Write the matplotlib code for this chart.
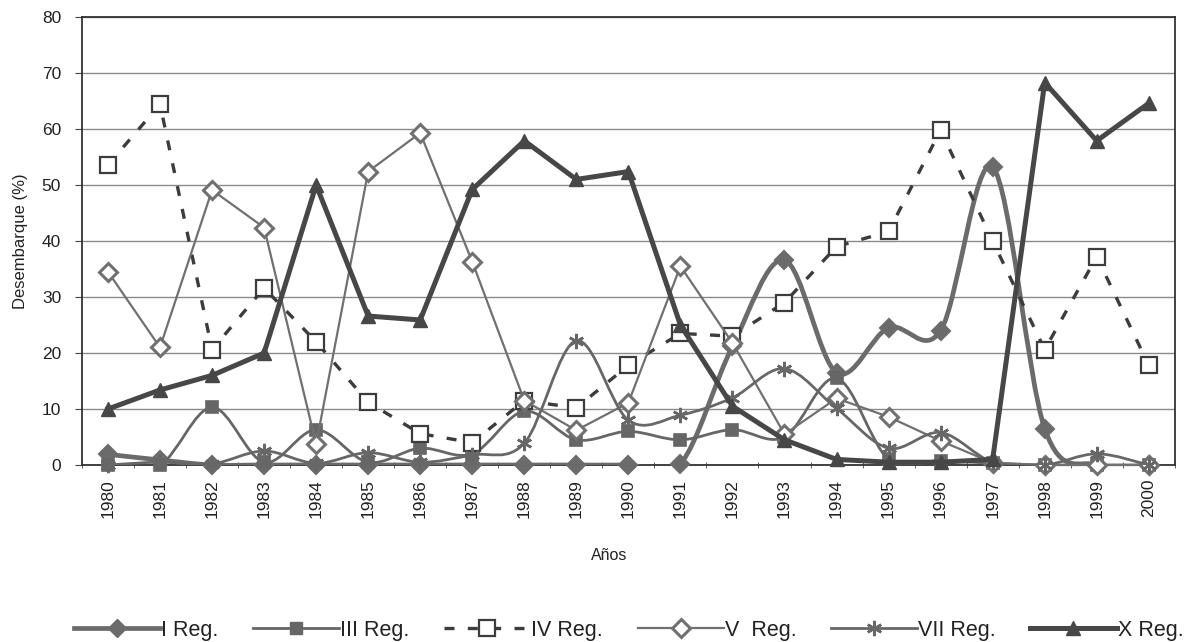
import numpy as np
import matplotlib
matplotlib.use("Agg")
import matplotlib.pyplot as plt
from matplotlib.path import Path
from matplotlib.patches import PathPatch
from matplotlib.lines import Line2D

plt.rcParams['font.family'] = ['Liberation Sans', 'DejaVu Sans']

years = [str(y) for y in range(1980, 2001)]

reg_I = [1.9, 0.9, 0, 0, 0, 0, 0, 0, 0, 0, 0, 0.2, 21.2, 36.6, 16.5, 24.5, 24.0, 53.2, 6.5, 0, 0]
reg_III = [0, 0, 10.3, 0.5, 6.3, 0.5, 3.0, 2.0, 9.6, 4.5, 6.0, 4.5, 6.3, 5.0, 15.5, 1.0, 0.8, 0.3, 0, 0, 0]
reg_IV = [53.6, 64.4, 20.6, 31.6, 22.0, 11.2, 5.6, 4.0, 11.5, 10.2, 17.8, 23.5, 23.0, 29.0, 39.0, 41.7, 59.8, 40.0, 20.6, 37.2, 17.8]
reg_V = [34.5, 21.0, 49.1, 42.4, 3.7, 52.4, 59.3, 36.3, 11.5, 6.2, 11.1, 35.5, 21.8, 5.5, 11.9, 8.6, 4.3, 0.4, 0, 0, 0]
reg_VII = [0, 0.5, 0.2, 2.5, 0.3, 2.2, 0.5, 1.8, 3.9, 22.2, 8.0, 8.9, 12.0, 17.2, 10.1, 3.0, 5.8, 0.5, 0, 2.0, 0]
reg_X = [10.0, 13.4, 16.0, 20.0, 50.0, 26.6, 25.9, 49.2, 57.9, 51.0, 52.4, 25.0, 10.5, 4.5, 1.0, 0.5, 0.5, 1.0, 68.3, 57.9, 64.6]

labels = ["I Reg.", "III Reg.", "IV Reg.", "V  Reg.", "VII Reg.", "X Reg."]

fig = plt.figure(figsize=(12, 6.42), dpi=100)
ax = fig.add_axes([0.0683, 0.2757, 0.9107, 0.6978])

x = np.arange(len(years))


def smooth_path(xs, ys):
    pts = np.column_stack([xs, ys]).astype(float)
    n = len(pts)
    verts = [pts[0]]
    codes = [Path.MOVETO]
    for i in range(n - 1):
        p0 = pts[i - 1] if i > 0 else pts[i]
        p1 = pts[i]
        p2 = pts[i + 1]
        p3 = pts[i + 2] if i + 2 < n else pts[i + 1]
        c1 = p1 + (p2 - p0) / 6.0
        c2 = p2 - (p3 - p1) / 6.0
        verts += [c1, c2, p2]
        codes += [Path.CURVE4] * 3
    return Path(verts, codes)


def smooth_series(ys, color, lw, marker, ms, mfc, mew, zorder):
    patch = PathPatch(smooth_path(x, ys), facecolor='none', edgecolor=color,
                      lw=lw, zorder=zorder, capstyle='round', joinstyle='round')
    ax.add_patch(patch)
    ax.plot(x, ys, linestyle='none', marker=marker, ms=ms, mfc=mfc,
            mec=color, mew=mew, zorder=zorder + 0.1, clip_on=False)


c_I = '#6b6b6b'
c_III = '#666666'
c_IV = '#3c3c3c'
c_V = '#707070'
c_VII = '#676767'
c_X = '#474747'

smooth_series(reg_I, c_I, 3.4, 'D', 9, c_I, 1.5, 3)
smooth_series(reg_III, c_III, 2.0, 's', 8, c_III, 1.2, 4)
ax.plot(x, reg_IV, color=c_IV, lw=2.4, ls=(0, (3, 4)), marker='s', ms=12,
        mfc='white', mec=c_IV, mew=1.6, zorder=5, clip_on=False)
ax.plot(x, reg_V, color=c_V, lw=1.6, marker='D', ms=9, mfc='white',
        mec=c_V, mew=2.2, zorder=6, clip_on=False)
smooth_series(reg_VII, c_VII, 2.0, (6, 2, 0), 11, c_VII, 1.8, 7)
ax.plot(x, reg_X, color=c_X, lw=3.6, marker='^', ms=10, mfc=c_X,
        mec=c_X, zorder=8, clip_on=False)

ax.set_xlim(-0.5, len(years) - 0.5)
ax.set_ylim(0, 80)
ax.set_yticks(range(0, 81, 10))
ax.yaxis.grid(True, color='#8a8a8a', lw=1.0)
ax.set_axisbelow(True)
ax.set_xticks(x)
ax.set_xticklabels(years, rotation=90)
ax.set_xticks(np.arange(-0.5, len(years), 1.0), minor=True)
ax.tick_params(axis='x', which='major', length=0, pad=10, labelsize=12.5, labelcolor='#222222')
ax.tick_params(axis='x', which='minor', length=5, direction='inout', color='#444444')
ax.tick_params(axis='y', which='major', length=5, direction='out', labelsize=12.5, pad=10,
               labelcolor='#222222', color='#444444')
for s in ax.spines.values():
    s.set_color('#333333')
    s.set_linewidth(1.3)

fig.text(0.508, 0.1355, 'Años', ha='center', va='center', fontsize=11.5, color='#222222')
fig.text(0.017, 0.6246, 'Desembarque (%)', ha='center', va='center', rotation=90,
         fontsize=12, color='#222222')

handles = [
    Line2D([], [], color=c_I, lw=3.4, marker='D', ms=9, mfc=c_I, mec=c_I),
    Line2D([], [], color=c_III, lw=2.0, marker='s', ms=8, mfc=c_III, mec=c_III),
    Line2D([], [], color=c_IV, lw=2.4, ls=(0, (3, 4)), marker='s', ms=12, mfc='white', mec=c_IV, mew=1.6),
    Line2D([], [], color=c_V, lw=1.6, marker='D', ms=9, mfc='white', mec=c_V, mew=2.2),
    Line2D([], [], color=c_VII, lw=2.0, marker=(6, 2, 0), ms=11, mec=c_VII, mew=1.8),
    Line2D([], [], color=c_X, lw=3.6, marker='^', ms=10, mfc=c_X, mec=c_X),
]
fig.legend(handles, labels, loc='center', bbox_to_anchor=(0.524, 0.018), ncol=6,
           frameon=False, fontsize=15.5, handlelength=4.0, handletextpad=0.05,
           columnspacing=1.6, labelcolor='#222222')

fig.savefig('out.png', dpi=100, facecolor='white')
